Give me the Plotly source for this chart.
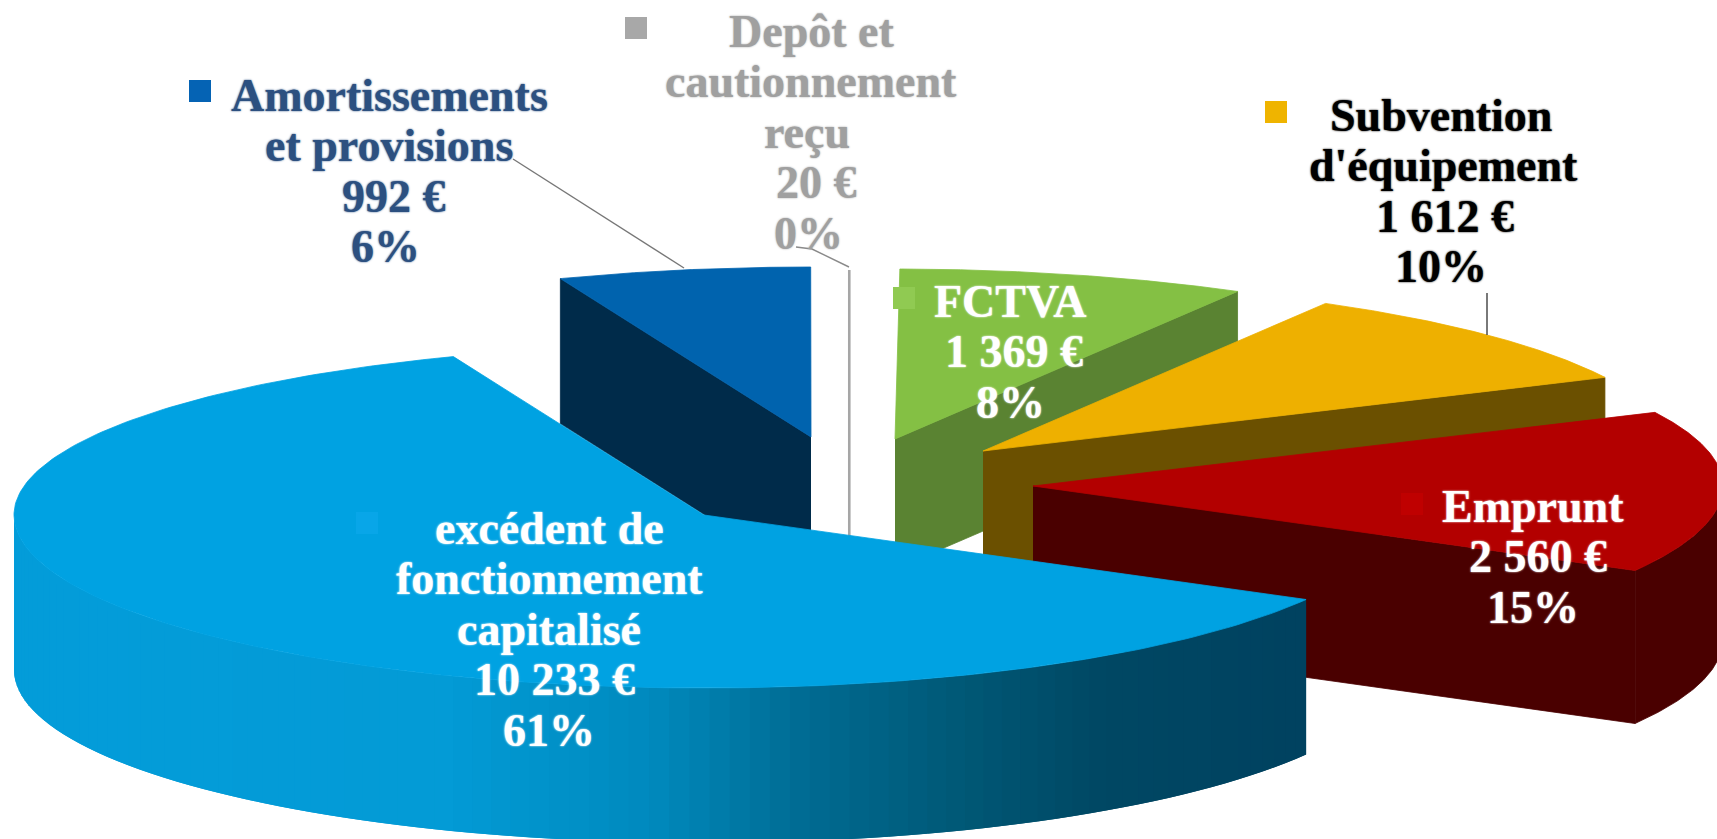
import numpy as np
import plotly.graph_objects as go

# ---- data ----
categories = ["Amortissements et provisions", "Depôt et cautionnement reçu", "FCTVA",
              "Subvention d'équipement", "Emprunt", "excédent de fonctionnement capitalisé"]
amounts = [992, 20, 1369, 1612, 2560, 10233]
label_lines = [["Amortissements", "et provisions"],
               ["Depôt et", "cautionnement", "reçu"],
               ["FCTVA"],
               ["Subvention", "d'équipement"],
               ["Emprunt"],
               ["excédent de", "fonctionnement", "capitalisé"]]

# ---- styles and layout of the drawing ----
W, H = 1717, 839
RX, RY_BACK, RY_FRONT = 690, 170, 173
START = 111.3
top_colors = ["#0063ae", "#a6a6a6", "#84c044", "#eeb000", "#b30000", "#00a2e2"]
wall_colors = ["#002b4a", "#a6a6a6", "#5a8332", "#6b5000", "#4a0000", "#004562"]
text_colors = ["#2c5080", "#a0a0a0", "#ffffff", "#000000", "#ffffff", "#ffffff"]
key_colors = ["#0563b4", "#a8a8a8", "#90ca52", "#efb400", "#bf0000", "#08a6e8"]
apex = [(811, 437), (847, 440), (895, 439), (983, 451), (1033, 486), (704, 515)]
depth = [145, 100, 130, 130, 153, 155]
label_x = [[389, 389, 394, 385], [811, 811, 807, 816, 808], [1010, 1014, 1010],
           [1441, 1443, 1445, 1441], [1533, 1538, 1533], [549, 549, 549, 554, 549]]
label_y0 = [95, 31, 301, 115, 506, 528]
label_dy = 50.6
key_xy = [(200, 91), (636, 28), (904, 298), (1276, 112), (1412, 504), (367, 523)]
grad_x = [15, 450, 650, 800, 950, 1100, 1310]
grad_r = [3, 3, 0, 0, 0, 0, 0]
grad_g = [157, 155, 138, 108, 90, 72, 66]
grad_b = [218, 214, 190, 148, 120, 100, 96]


def rim(c, t):
    t = np.asarray(t, float)
    r = np.radians(t)
    s = np.sin(r)
    ry = np.where(s > 0, RY_BACK, RY_FRONT)
    return c[0] + RX * np.cos(r), c[1] - ry * s


fig = go.Figure()


def poly(x, y, color, lw=0.8):
    fig.add_trace(go.Scatter(x=list(x), y=list(y), mode="lines", fill="toself", fillcolor=color,
                             line=dict(color=color, width=lw), hoverinfo="skip", showlegend=False))


def sector_edges(values):
    total = sum(values)
    spans = [v / total * 360 for v in values]
    edges = []
    a = START
    for s in spans[:-1]:
        edges.append((a, a - s))  # clockwise slices
        a -= s
    edges.append((START + spans[-1], START))  # the big slice, anticlockwise from START
    return edges


edges = sector_edges(amounts)

for i, (a0, a1) in enumerate(edges):
    c, d = apex[i], depth[i]
    hi, lo = max(a0, a1), min(a0, a1)
    if i == 1:
        # the 0 % slice is so thin that it reads as a single line down its middle
        ex, ey = rim(c, (a0 + a1) / 2)
        fig.add_trace(go.Scatter(x=[ex, ex], y=[ey, c[1] + d], mode="lines",
                                 line=dict(color=top_colors[i], width=2.6),
                                 hoverinfo="skip", showlegend=False))
        continue
    # radial faces
    if i != 5:
        for ang in (hi, lo):
            ex, ey = rim(c, ang)
            facing = (ang == hi and np.cos(np.radians(ang)) < 0) or (ang == lo and np.cos(np.radians(ang)) > 0)
            if facing:
                poly([c[0], ex, ex, c[0]], [c[1], ey, ey + d, c[1] + d], wall_colors[i])
    # outer rim wall, front half only
    for k in (-1, 0):
        s, e = max(lo, 180 + 360 * k), min(hi, 360 + 360 * k)
        if e <= s:
            continue
        if i == 5:
            n = 90
            ts = np.linspace(s, e, n + 1)
            for j in range(n):
                # each strip runs under the next one so no seams show
                seg = np.linspace(ts[j], ts[min(j + 2, n)], 4)
                x, y = rim(c, seg)
                xm = rim(c, (ts[j] + ts[j + 1]) / 2)[0]
                col = "rgb(%d,%d,%d)" % (np.interp(xm, grad_x, grad_r), np.interp(xm, grad_x, grad_g),
                                         np.interp(xm, grad_x, grad_b))
                poly(list(x) + list(x[::-1]), list(y) + list((y + d)[::-1]), col, lw=0)
        else:
            seg = np.linspace(s, e, 60)
            x, y = rim(c, seg)
            poly(list(x) + list(x[::-1]), list(y) + list((y + d)[::-1]), wall_colors[i])
    # top face
    seg = np.linspace(a0, a1, 240)
    x, y = rim(c, seg)
    poly([c[0]] + list(x) + [c[0]], [c[1]] + list(y) + [c[1]], top_colors[i])

# leader lines
leaders = [([513, 684], [159, 268], "#777777"),
           ([796, 812, 849], [247, 249, 267], "#8a8a8a"),
           ([1487, 1487], [293, 335], "#404040")]
for lx, ly, lc in leaders:
    fig.add_trace(go.Scatter(x=lx, y=ly, mode="lines", line=dict(color=lc, width=1.4),
                             hoverinfo="skip", showlegend=False))

# keys
fig.add_trace(go.Scatter(x=[k[0] for k in key_xy], y=[k[1] for k in key_xy], mode="markers",
                         marker=dict(symbol="square", size=22, color=key_colors),
                         hoverinfo="skip", showlegend=False))

# labels
total = sum(amounts)
for i, lines in enumerate(label_lines):
    money = f"{amounts[i]:,}".replace(",", " ") + " €"
    pct = f"{round(amounts[i] / total * 100)}%"
    for j, t in enumerate(lines + [money, pct]):
        fig.add_annotation(x=label_x[i][j], y=label_y0[i] + j * label_dy, text=t, showarrow=False,
                           xref="x", yref="y", xanchor="center", yanchor="middle",
                           font=dict(family="Liberation Serif", size=46, color=text_colors[i],
                                     weight="bold", shadow=f"0 0 2px {text_colors[i]}"))

fig.update_layout(width=W, height=H, autosize=False, margin=dict(l=0, r=0, t=0, b=0),
                  paper_bgcolor="white", plot_bgcolor="white",
                  xaxis=dict(range=[0, W], visible=False, fixedrange=True),
                  yaxis=dict(range=[H, 0], visible=False, fixedrange=True))
fig.write_html("out.html", config={"displayModeBar": False},
               default_width=f"{W}px", default_height=f"{H}px",
               post_script="document.body.style.margin='0';document.body.style.overflow='hidden';")
